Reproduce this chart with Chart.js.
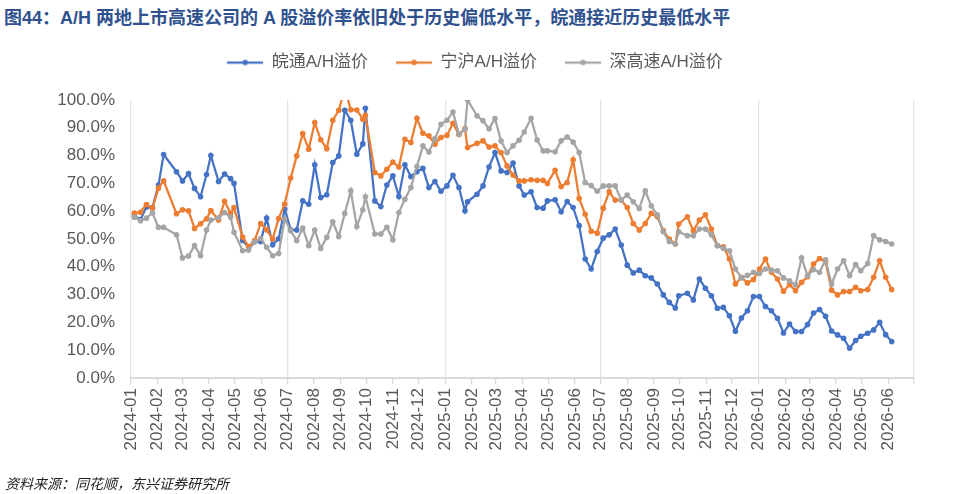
<!DOCTYPE html>
<html lang="zh-CN">
<head>
<meta charset="utf-8">
<title>A/H溢价率</title>
<script src="https://cdn.jsdelivr.net/npm/chart.js@4.4.1/dist/chart.umd.min.js"></script>
<style>
  html, body { margin: 0; padding: 0; background: #fff; }
  body { width: 953px; height: 494px; position: relative; overflow: hidden; }
  #title {
    position: absolute; left: 4px; top: 3px; white-space: nowrap;
    font: bold 18px "Liberation Sans", "Noto Sans CJK SC", sans-serif; color: #2F528F;
  }
  #source {
    position: absolute; left: 5px; top: 473px; white-space: nowrap;
    font: italic 14px "Noto Sans CJK SC", sans-serif; color: #222;
  }
  #chart { position: absolute; left: 0; top: 0; }
</style>
</head>
<body>
<div id="title">图44：A/H 两地上市高速公司的 A 股溢价率依旧处于历史偏低水平，皖通接近历史最低水平</div>
<canvas id="chart" width="953" height="494"></canvas>
<div id="source">资料来源：同花顺，东兴证券研究所</div>

<script>
// weekly dates (last trading day of each week)
const dates = [
  '2024-01-05','2024-01-12','2024-01-19','2024-01-26','2024-02-02','2024-02-08','2024-02-23',
  '2024-03-01','2024-03-08','2024-03-15','2024-03-22','2024-03-29','2024-04-03','2024-04-12',
  '2024-04-19','2024-04-26','2024-04-30','2024-05-10','2024-05-17','2024-05-24','2024-05-31',
  '2024-06-07','2024-06-14','2024-06-21','2024-06-28','2024-07-05','2024-07-12','2024-07-19',
  '2024-07-26','2024-08-02','2024-08-09','2024-08-16','2024-08-23','2024-08-30','2024-09-06',
  '2024-09-13','2024-09-20','2024-09-27','2024-09-30','2024-10-11','2024-10-18','2024-10-25',
  '2024-11-01','2024-11-08','2024-11-15','2024-11-22','2024-11-29','2024-12-06','2024-12-13',
  '2024-12-20','2024-12-27',
  '2025-01-03','2025-01-10','2025-01-17','2025-01-24','2025-01-27','2025-02-07','2025-02-14',
  '2025-02-21','2025-02-28','2025-03-07','2025-03-14','2025-03-21','2025-03-28','2025-04-03',
  '2025-04-11','2025-04-18','2025-04-25','2025-04-30','2025-05-09','2025-05-16','2025-05-23',
  '2025-05-30','2025-06-06','2025-06-13','2025-06-20','2025-06-27','2025-07-04','2025-07-11',
  '2025-07-18','2025-07-25','2025-08-01','2025-08-08','2025-08-15','2025-08-22','2025-08-29',
  '2025-09-05','2025-09-12','2025-09-19','2025-09-26','2025-09-30','2025-10-10','2025-10-17',
  '2025-10-24','2025-10-31','2025-11-07','2025-11-14','2025-11-21','2025-11-28','2025-12-05',
  '2025-12-12','2025-12-19','2025-12-26',
  '2026-01-02','2026-01-09','2026-01-16','2026-01-23','2026-01-30','2026-02-06','2026-02-13',
  '2026-02-20','2026-02-27','2026-03-06','2026-03-13','2026-03-20','2026-03-27','2026-04-03',
  '2026-04-10','2026-04-17','2026-04-24','2026-04-30','2026-05-08','2026-05-15','2026-05-22',
  '2026-05-29','2026-06-05'
];

// 皖通A/H溢价 (%)
const wantong = [
  58.3, 57.0, 61.5, 61.3, 69.4, 80.4, 74.2, 70.9, 73.5, 68.2, 65.2, 73.2, 80.0, 70.7,
  73.4, 71.7, 70.0, 49.5, 47.1, 49.1, 49.1, 57.5, 47.9, 50.1, 60.8, 53.3, 53.2, 63.7,
  62.5, 76.7, 64.9, 65.9, 77.5, 79.9, 96.3, 92.7, 80.5, 84.2, 97.0, 63.7, 61.7, 69.4,
  72.7, 65.3, 76.7, 72.5, 74.2, 75.4, 68.5, 70.7, 67.2,
  69.1, 72.9, 68.5, 60.1, 63.4, 66.1, 69.1, 75.9, 81.1, 74.5, 73.9, 77.3, 69.1, 65.8,
  67.0, 61.3, 61.1, 63.7, 64.1, 59.8, 63.5, 61.3, 54.8, 42.8, 39.2, 45.5, 50.3, 51.5,
  53.6, 47.8, 40.6, 37.8, 38.8, 36.8, 36.0, 33.8, 29.9, 27.2, 25.2, 29.6, 30.5, 28.1,
  35.6, 32.3, 29.6, 25.1, 25.4, 22.4, 16.8, 21.6, 24.2, 29.3,
  29.3, 25.7, 24.2, 21.5, 16.2, 19.4, 16.7, 16.7, 19.2, 23.4, 24.6, 22.2, 16.9, 15.5,
  14.3, 10.7, 13.5, 15.0, 16.1, 17.3, 20.0, 15.6, 13.1
];

// 宁沪A/H溢价 (%)
const ninghu = [
  59.3, 59.6, 62.4, 61.1, 68.3, 70.9, 59.1, 60.5, 60.1, 53.8, 55.5, 57.3, 60.2, 56.8,
  63.6, 59.2, 61.3, 50.7, 47.3, 49.4, 55.6, 53.3, 50.0, 57.4, 62.6, 71.9, 79.9, 87.9,
  82.3, 91.9, 85.7, 82.5, 92.7, 96.3, 104.0, 96.5, 96.4, 93.1, 94.5, 73.9, 72.7, 75.1,
  77.7, 75.9, 85.9, 84.7, 93.4, 88.0, 87.1, 84.1, 86.5,
  87.3, 91.6, 87.6, 89.7, 82.9, 84.4, 85.3, 83.1, 83.5, 81.1, 76.3, 73.0, 70.9, 70.9,
  71.3, 71.1, 71.1, 70.0, 74.7, 68.9, 70.3, 78.5, 64.6, 58.9, 52.8, 52.1, 61.1, 67.0,
  64.0, 64.0, 61.3, 55.6, 53.2, 55.6, 59.2, 58.0, 53.0, 50.0, 48.2, 55.4, 58.0, 53.0,
  56.8, 58.7, 53.6, 47.6, 47.2, 42.8, 33.8, 36.2, 34.2, 35.4,
  39.2, 42.8, 38.0, 35.6, 31.2, 33.6, 31.4, 34.4, 36.4, 41.0, 43.0, 41.8, 31.6, 29.9,
  31.1, 31.1, 32.6, 31.4, 31.8, 36.2, 42.2, 36.2, 31.8
];

// 深高速A/H溢价 (%)
const shengaosu = [
  57.8, 56.6, 57.5, 59.4, 54.2, 54.2, 51.5, 43.2, 43.9, 47.6, 44.0, 53.2, 56.8, 57.6,
  59.5, 57.9, 52.4, 45.8, 46.0, 48.9, 50.2, 47.0, 44.0, 44.8, 57.2, 53.0, 49.4, 53.9,
  47.6, 53.2, 46.6, 50.6, 56.2, 50.9, 59.2, 67.3, 54.5, 60.5, 65.2, 51.8, 51.8, 54.2,
  49.7, 59.5, 64.3, 68.5, 76.1, 83.5, 81.3, 86.1, 91.3,
  92.7, 95.7, 87.7, 89.5, 100.0, 94.3, 92.5, 89.7, 93.3, 85.3, 81.1, 83.5, 85.5, 88.5,
  93.4, 85.6, 81.7, 81.7, 81.4, 85.3, 86.7, 84.9, 81.1, 70.3, 69.2, 67.2, 69.1, 69.1,
  69.1, 64.0, 65.8, 63.4, 61.0, 67.3, 61.9, 58.7, 52.6, 49.1, 48.2, 52.6, 51.2, 51.2,
  53.6, 53.6, 51.5, 47.6, 46.7, 45.8, 39.2, 36.0, 36.9, 38.0,
  37.6, 39.2, 38.8, 38.6, 36.0, 35.0, 33.5, 43.2, 36.8, 39.0, 38.0, 42.5, 33.8, 39.2,
  42.2, 36.8, 40.8, 38.6, 41.2, 51.2, 49.7, 49.1, 48.2
];

// x axis month labels (one tick per month start, axis ends at 2026-07)
const tickLabels = [
  '2024-01','2024-02','2024-03','2024-04','2024-05','2024-06','2024-07','2024-08','2024-09','2024-10','2024-11','2024-12',
  '2025-01','2025-02','2025-03','2025-04','2025-05','2025-06','2025-07','2025-08','2025-09','2025-10','2025-11','2025-12',
  '2026-01','2026-02','2026-03','2026-04','2026-05','2026-06'
];
const axisEnd = '2026-07';

const FONT = '"Liberation Sans", "Noto Sans CJK SC", sans-serif';
const t0 = Date.parse('2024-01-01');
function dayOf(s) { return (Date.parse(s) - t0) / 86400000; }

const tickDays = tickLabels.concat([axisEnd]).map(m => dayOf(m + '-01'));

function points(vals) {
  return vals.map((v, i) => ({ x: dayOf(dates[i]), y: v }));
}

function legendMark(color) {
  const c = document.createElement('canvas');
  c.width = 36; c.height = 8;
  const g = c.getContext('2d');
  g.strokeStyle = color; g.lineWidth = 2.25;
  g.beginPath(); g.moveTo(0, 4); g.lineTo(36, 4); g.stroke();
  g.fillStyle = color;
  g.beginPath(); g.arc(18, 4, 2.8, 0, Math.PI * 2); g.fill();
  return c;
}

function series(label, vals, color, order) {
  return {
    label: label, data: points(vals), borderColor: color, backgroundColor: color,
    borderWidth: 2.25, pointRadius: 2.8, pointBorderWidth: 0, pointBackgroundColor: color,
    tension: 0, order: order
  };
}

// extra room under the legend
const legendGap = {
  id: 'legendGap',
  beforeInit(chart) {
    const fit = chart.legend.fit;
    chart.legend.fit = function () { fit.call(this); this.height += 19; };
  }
};

const padLeft = 36;

new Chart(document.getElementById('chart'), {
  type: 'line',
  data: {
    datasets: [
      series('皖通A/H溢价', wantong, '#4472C4', 3),
      series('宁沪A/H溢价', ninghu, '#ED7D31', 2),
      series('深高速A/H溢价', shengaosu, '#A5A5A5', 1)
    ]
  },
  options: {
    responsive: false,
    animation: false,
    layout: { padding: { top: 26, right: 39, bottom: 0, left: padLeft } },
    plugins: {
      tooltip: { enabled: false },
      legend: {
        position: 'top',
        labels: {
          usePointStyle: true,
          pointStyleWidth: 36,
          padding: 28,
          color: '#595959',
          font: { size: 17, family: FONT },
          generateLabels: chart => chart.data.datasets.map((ds, i) => ({
            text: ds.label,
            pointStyle: legendMark(ds.borderColor),
            fillStyle: ds.borderColor,
            strokeStyle: ds.borderColor,
            lineWidth: 0,
            hidden: false,
            datasetIndex: i,
            fontColor: '#595959'
          }))
        }
      }
    },
    scales: {
      x: {
        type: 'linear',
        min: 0,
        max: tickDays[tickDays.length - 1],
        afterBuildTicks: s => { s.ticks = tickDays.map(v => ({ value: v })); },
        afterFit: s => { s.height = 116; },
        ticks: {
          autoSkip: false, maxRotation: 90, minRotation: 90, padding: 4,
          color: '#595959', font: { size: 17, family: FONT },
          callback: (v, i) => tickLabels[i] || ''
        },
        grid: {
          color: ctx => (ctx.index % 6 === 0 ? '#E3E3E3' : 'rgba(0,0,0,0)'),
          tickColor: '#D9D9D9', tickLength: 6, lineWidth: 1.3
        },
        border: { color: '#D9D9D9', width: 2 }
      },
      y: {
        min: 0, max: 100,
        afterFit: s => { s.width = 131 - padLeft; },
        ticks: {
          stepSize: 10, padding: 16, color: '#595959', font: { size: 17, family: FONT },
          callback: v => v.toFixed(1) + '%'
        },
        grid: { display: false, drawTicks: false },
        border: { display: false }
      }
    }
  },
  plugins: [legendGap]
});
</script>
</body>
</html>
